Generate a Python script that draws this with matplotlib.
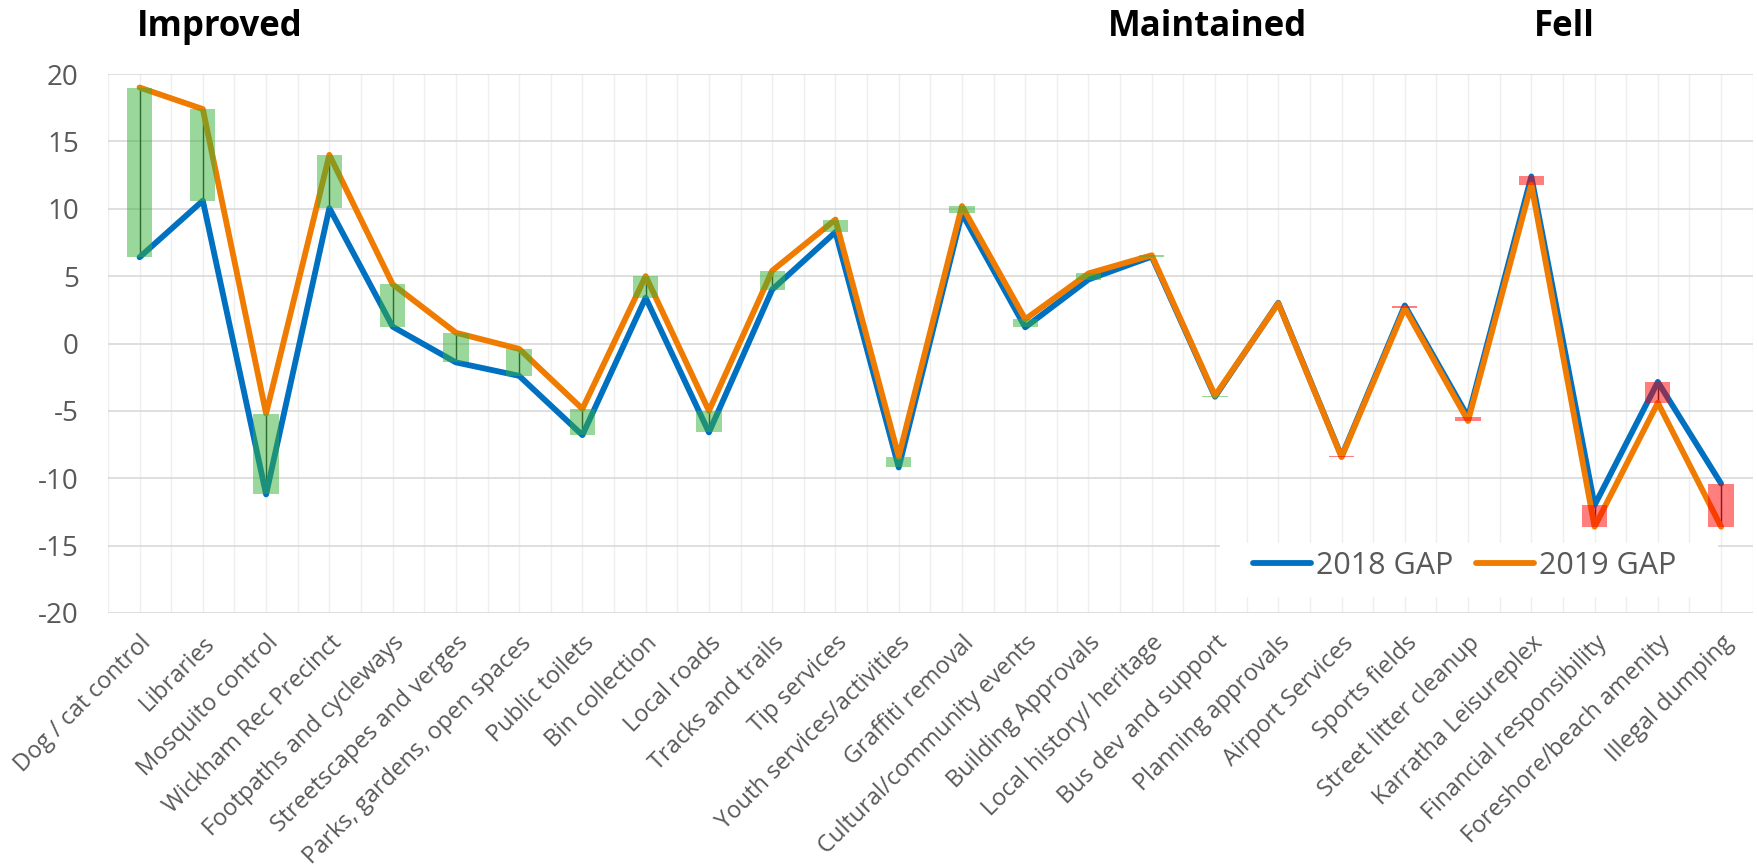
import numpy as np
import matplotlib
matplotlib.use("Agg")
import matplotlib.pyplot as plt
import matplotlib.transforms as mtransforms
from matplotlib.patches import Rectangle

plt.rcParams['font.family'] = ['Open Sans', 'DejaVu Sans']
plt.rcParams['axes.unicode_minus'] = False

categories = ["Dog / cat control", "Libraries", "Mosquito control", "Wickham Rec Precinct",
              "Footpaths and cycleways", "Streetscapes and verges", "Parks, gardens, open spaces",
              "Public toilets", "Bin collection", "Local roads", "Tracks and trails", "Tip services",
              "Youth services/activities", "Graffiti removal", "Cultural/community events",
              "Building Approvals", "Local history/ heritage", "Bus dev and support",
              "Planning approvals", "Airport Services", "Sports fields", "Street litter cleanup",
              "Karratha Leisureplex", "Financial responsibility", "Foreshore/beach amenity",
              "Illegal dumping"]

gap_2018 = [6.4, 10.6, -11.2, 10.05, 1.25, -1.4, -2.4, -6.8, 3.4, -6.6, 4.0, 8.27, -9.2,
            9.65, 1.2, 4.75, 6.45, -3.95, 3.02, -8.38, 2.82, -5.45, 12.4, -12.0, -2.85, -10.4]
gap_2019 = [19.0, 17.4, -5.2, 14.0, 4.4, 0.8, -0.4, -4.85, 5.0, -5.0, 5.4, 9.2, -8.4,
            10.2, 1.8, 5.2, 6.55, -3.87, 2.98, -8.43, 2.62, -5.75, 11.8, -13.6, -4.4, -13.6]

headers = ["Improved", "Maintained", "Fell"]
header_x = [-0.05, 15.3, 22.04]

x = np.arange(len(categories))
a = np.array(gap_2018)
b = np.array(gap_2019)

fig = plt.figure(figsize=(17.58, 8.67), dpi=100)
ax = fig.add_axes([0.0614, 0.293, 0.9356, 0.6216])

# high-low lines
ax.vlines(x, np.minimum(a, b), np.maximum(a, b), color="#262626", lw=1.0, zorder=3)

ax.plot(x, a, color="#0070c0", lw=4.2, solid_joinstyle="round", solid_capstyle="round",
        zorder=4, label="2018 GAP")
ax.plot(x, b, color="#ef7b00", lw=4.2, solid_joinstyle="round", solid_capstyle="round",
        zorder=5, label="2019 GAP")

# up / down bars
colors = ["#37b137" if v2 >= v1 else "#ff0000" for v1, v2 in zip(a, b)]
ax.bar(x, b - a, bottom=a, width=0.4, color=colors, alpha=0.5, zorder=6, linewidth=0)

ax.set_xlim(-0.5, len(categories) - 0.5)
ax.set_ylim(-20, 20)
ax.set_yticks(np.arange(-20, 21, 5))
ax.set_xticks(x)
ax.set_xticks(np.arange(-0.5, len(categories), 1.0), minor=True)
ax.set_xticklabels(categories, rotation=45, ha="right", rotation_mode="anchor")

ax.grid(axis="y", which="major", color="#d9d9d9", lw=1.2, zorder=0)
ax.grid(axis="x", which="both", color="#efefef", lw=1.0, zorder=0)
ax.set_axisbelow(True)
for s in ax.spines.values():
    s.set_visible(False)
ax.tick_params(axis="both", which="both", length=0, colors="#595959")
ax.tick_params(axis="y", labelsize=20, pad=21)
ax.tick_params(axis="x", labelsize=17, pad=13)

# white box behind legend
ax.add_patch(Rectangle((0.676, 0.03), 0.303, 0.10, transform=ax.transAxes,
                       facecolor="white", edgecolor="none", zorder=2))
leg = ax.legend(loc="center left", bbox_to_anchor=(1253 / 1758, 1 - 566 / 867),
                bbox_transform=fig.transFigure, ncol=2, frameon=False, fontsize=22,
                handlelength=1.9, handletextpad=0.15, columnspacing=0.75,
                borderpad=0, borderaxespad=0)
for t in leg.get_texts():
    t.set_color("#595959")
leg.set_zorder(7)

trans = mtransforms.blended_transform_factory(ax.transData, fig.transFigure)
for h, hx in zip(headers, header_x):
    fig.text(hx, 1 - 36 / 867, h, transform=trans, fontsize=25, fontweight="bold",
             ha="left", va="baseline", color="black")

fig.savefig("out.png", dpi=100)
